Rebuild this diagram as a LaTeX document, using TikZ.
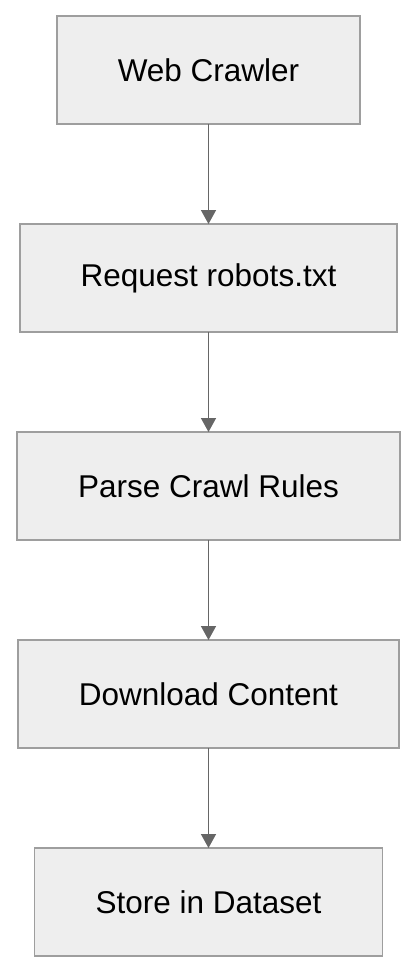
\documentclass[tikz,border=0pt]{standalone}
\usepackage{fontspec}
\setmainfont{Liberation Sans}
\usepackage{xcolor}
\usepackage{tikz}
\usetikzlibrary{arrows.meta, positioning}
\definecolor{boxfill}{HTML}{EEEEEE}
\definecolor{boxline}{HTML}{9E9E9E}
\definecolor{arrline}{HTML}{666666}

\begin{document}
\begin{tikzpicture}[x=1pt, y=1pt,
    every node/.style={font=\fontsize{31.5}{38}\selectfont},
    node distance = 100pt,
    arr/.style = {-{Triangle[width=15pt,length=14pt]}, line width=1.5pt, draw=arrline, fill=arrline},
    box/.style = {rectangle, draw=boxline, line width=1.8pt, fill=boxfill,
                     minimum height=108pt, inner xsep=61pt, inner ysep=0pt, outer sep=0pt}
]
\useasboundingbox (0,0) rectangle (416,-972);

\node (crawler) [box] at (208.5,-70) {Web Crawler};
\node (robots) [box, below=of crawler] {Request robots.txt};
\node (rules) [box, below=of robots] {Parse Crawl Rules};
\node (download) [box, below=of rules] {Download Content};
\node (store) [box, below=of download] {Store in Dataset};

\draw[arr]   (crawler) -- (robots);
\draw[arr]   (robots) -- (rules);
\draw[arr]   (rules) -- (download);
\draw[arr]   (download) -- (store);

\end{tikzpicture}
\end{document}
